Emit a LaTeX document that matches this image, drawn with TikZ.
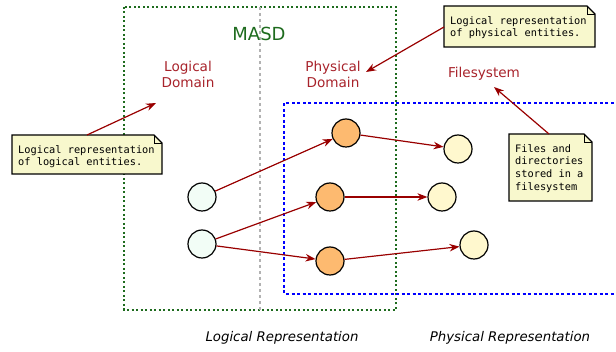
\documentclass[tikz,border=0pt]{standalone}
\usepackage{fontspec}
\setmainfont{DejaVu Sans}
\setmonofont{DejaVu Sans Mono}
\usetikzlibrary{arrows.meta}
\definecolor{linkred}{HTML}{990000}
\definecolor{labelred}{HTML}{A8232B}
\definecolor{masdgreen}{HTML}{1E6B1E}
\definecolor{logicfill}{HTML}{F2FDF6}
\definecolor{physfill}{HTML}{FDBA70}
\definecolor{filefill}{HTML}{FFF8CE}
\definecolor{notefill}{HTML}{F8F8CD}
\tikzset{
  entity/.style={circle, draw=black, line width=1.2pt, minimum size=28pt, inner sep=0pt},
  logical/.style={entity, fill=logicfill},
  physical/.style={entity, fill=physfill},
  stored/.style={entity, fill=filefill},
  link/.style={draw=linkred, line width=1.2pt, -{Stealth[length=10pt,width=7.5pt]}},
  domainlabel/.style={text=labelred, font=\fontsize{13.6}{16}\selectfont, align=center},
  notetext/.style={font=\ttfamily\fontsize{10.3}{12.7}\selectfont, align=left, anchor=north west, inner sep=0pt},
  notebox/.style={draw=black, line width=1.2pt, fill=notefill},
  replabel/.style={font=\itshape\fontsize{13.3}{15}\selectfont}
}
\newcommand{\notepath}[4]{% x1, y1, x2, y2 with folded corner
  \draw[notebox] (#1,#2) -- (#3-8,#2) -- (#3,#2+8) -- (#3,#4) -- (#1,#4) -- cycle;
  \draw[line width=0.8pt] (#3-8,#2) -- (#3-8,#2+8) -- (#3,#2+8);
}
\begin{document}
\begin{tikzpicture}[x=1pt, y=-1pt]
\useasboundingbox (0,0) rectangle (616,352);

% frames
\draw[masdgreen, line width=1.1pt, dash pattern=on 2pt off 2.5pt] (124,7) rectangle (396,310);
\draw[gray!60, line width=1.1pt, dash pattern=on 3pt off 3pt] (260,7) -- (260,310);
\begin{scope}
\clip (0,0) rectangle (616,352);
\draw[blue, line width=1.2pt, dash pattern=on 3pt off 2.5pt] (630,103) -- (284,103) -- (284,294) -- (630,294);
\end{scope}

% titles
\node[text=masdgreen, font=\fontsize{18}{20}\selectfont] (masd) at (259,34) {MASD};
\node[domainlabel] (logdom) at (188,74) {Logical\\Domain};
\node[domainlabel] (physdom) at (333,74) {Physical\\Domain};
\node[domainlabel] (fsys) at (484,74) {Filesystem};

% entities
\node[logical] (l1) at (202,197) {};
\node[logical] (l2) at (202,244) {};
\node[physical] (p1) at (346,133) {};
\node[physical] (p2) at (330,197) {};
\node[physical] (p3) at (330,261) {};
\node[stored] (f1) at (458,149) {};
\node[stored] (f2) at (442,197) {};
\node[stored] (f3) at (474,245) {};

\draw[link] (l1) -- (p1);
\draw[link] (l2) -- (p2);
\draw[link] (l2) -- (p3);
\draw[link] (p1) -- (f1);
\draw[link] (p2) -- (f2);
\draw[link] (p3) -- (f3);

% notes
\notepath{12}{135}{162}{174}
\node[notetext] (n1) at (18,145) {Logical representation\\of logical entities.};
\notepath{444}{6}{595}{47}
\node[notetext] (n2) at (450,16) {Logical representation\\of physical entities.};
\notepath{509}{134}{592}{201}
\node[notetext] (n3) at (515,144) {Files and\\directories\\stored in a\\filesystem};

\coordinate (n1tip) at (87,135);
\coordinate (n1end) at (156,103);
\coordinate (n2tip) at (444,27);
\coordinate (n2end) at (366,72);
\coordinate (n3tip) at (549,134);
\coordinate (n3end) at (494,87);
\draw[link] (n1tip) -- (n1end);
\draw[link] (n2tip) -- (n2end);
\draw[link] (n3tip) -- (n3end);

% bottom captions
\node[replabel] (lrep) at (282,338) {Logical Representation};
\node[replabel] (prep) at (510,338) {Physical Representation};
\end{tikzpicture}
\end{document}
